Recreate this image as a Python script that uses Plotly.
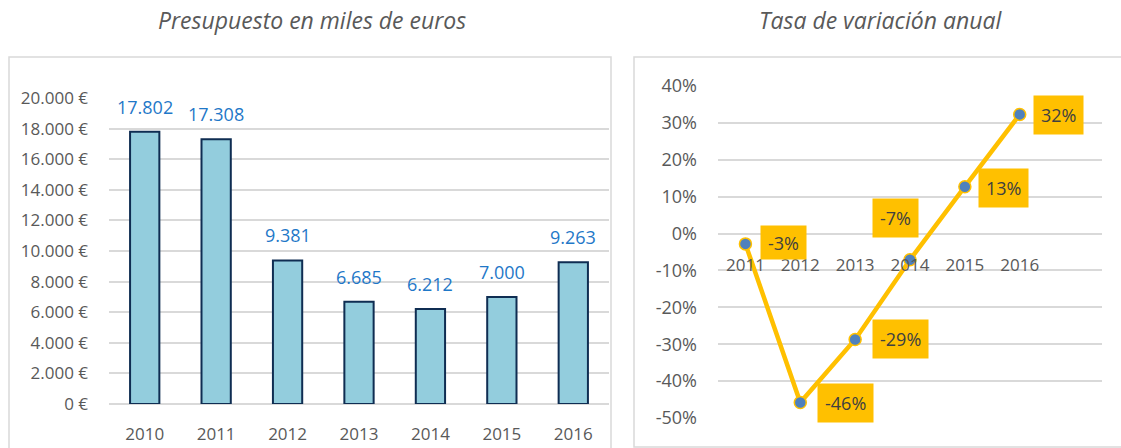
import plotly.graph_objects as go

# ---- data ----
years_budget = ["2010", "2011", "2012", "2013", "2014", "2015", "2016"]
budget = [17802, 17308, 9381, 6685, 6212, 7000, 9263]
budget_labels = ["17.802", "17.308", "9.381", "6.685", "6.212", "7.000", "9.263"]
budget_ticks = [0, 2000, 4000, 6000, 8000, 10000, 12000, 14000, 16000, 18000, 20000]
budget_ticktext = ["0 €", "2.000 €", "4.000 €", "6.000 €", "8.000 €", "10.000 €",
                   "12.000 €", "14.000 €", "16.000 €", "18.000 €", "20.000 €"]

years_rate = ["2011", "2012", "2013", "2014", "2015", "2016"]
rate = [-0.028, -0.458, -0.287, -0.071, 0.127, 0.323]
rate_labels = ["-3%", "-46%", "-29%", "-7%", "13%", "32%"]
rate_ticks = [-0.5, -0.4, -0.3, -0.2, -0.1, 0, 0.1, 0.2, 0.3, 0.4]
rate_ticktext = ["-50%", "-40%", "-30%", "-20%", "-10%", "0%", "10%", "20%", "30%", "40%"]

W, H = 1121, 448
def px(x): return x / W
def py(y): return 1 - y / H

FONT = "Open Sans"
GREY = "#595959"
GRID = "#D9D9D9"

fig = go.Figure()

fig.add_trace(go.Bar(
    x=years_budget, y=budget, xaxis="x", yaxis="y",
    marker=dict(color="#93CDDD", line=dict(color="#0F2D52", width=2)),
    width=0.41, showlegend=False, hoverinfo="skip",
))

fig.add_trace(go.Scatter(
    x=years_rate, y=rate, xaxis="x2", yaxis="y2", mode="lines+markers",
    line=dict(color="#FFC000", width=4.5),
    marker=dict(color="#4F81BD", size=12, line=dict(color="#FFC000", width=1.5)),
    showlegend=False, hoverinfo="skip",
))

annotations = []
for i, (yv, t) in enumerate(zip(budget, budget_labels)):
    annotations.append(dict(
        x=i, y=yv, xref="x", yref="y", text=t, showarrow=False,
        xanchor="center", yanchor="bottom", yshift=11,
        font=dict(family=FONT, size=18, color="#1F78C8"),
    ))

shifts = [(38, 1.5), (45, 0), (45, 0), (-15, 42), (39, -1), (39, -1)]
for i, ((xs, ys), yv, t) in enumerate(zip(shifts, rate, rate_labels)):
    ann = dict(
        x=i, y=yv, xref="x2", yref="y2", text=t, showarrow=False,
        xanchor="center", yanchor="middle",
        xshift=xs, yshift=ys, bgcolor="#FFC000", borderpad=7,
        font=dict(family=FONT, size=18, color="#404040"),
    )
    if i == 0:
        ann["height"] = 19
    annotations.append(ann)

annotations.append(dict(
    x=px(312), y=py(20), xref="paper", yref="paper", showarrow=False,
    xanchor="center", yanchor="middle",
    text="<i>Presupuesto en miles de euros</i>",
    font=dict(family=FONT, size=23, color=GREY),
))
annotations.append(dict(
    x=px(881), y=py(20), xref="paper", yref="paper", showarrow=False,
    xanchor="center", yanchor="middle",
    text="<i>Tasa de variación anual</i>",
    font=dict(family=FONT, size=23, color=GREY),
))

shapes = [
    dict(type="rect", xref="paper", yref="paper", x0=px(9), x1=px(611),
         y0=-0.05, y1=py(57), line=dict(color=GRID, width=1.5), layer="below"),
    dict(type="rect", xref="paper", yref="paper", x0=px(634), x1=1.05,
         y0=py(447), y1=py(57), line=dict(color=GRID, width=1.5), layer="below"),
]

y0_frac = py(418)
y1_frac = py(86)
zero_pos = y0_frac + (0 - (-0.5)) / 0.9 * (y1_frac - y0_frac)

fig.update_layout(
    width=W, height=H, margin=dict(l=0, r=0, t=0, b=0, autoexpand=False),
    paper_bgcolor="white", plot_bgcolor="white",
    font=dict(family=FONT, color=GREY),
    annotations=annotations, shapes=shapes,
    xaxis=dict(domain=[px(109), px(609)], anchor="y", type="category",
               range=[-0.5, 6.5], automargin=False,
               showgrid=False, showline=False, ticks="",
               tickfont=dict(size=17, color=GREY), ticklabelstandoff=18),
    yaxis=dict(domain=[py(404), py(98)], anchor="x", range=[0, 20000],
               automargin=False,
               tickvals=budget_ticks, ticktext=budget_ticktext,
               showgrid=True, gridcolor=GRID, gridwidth=1.5,
               zeroline=True, zerolinecolor=GRID, zerolinewidth=1.5,
               showline=False, ticks="", tickfont=dict(size=17, color=GREY),
               ticklabelstandoff=20),
    xaxis2=dict(domain=[px(718), px(1102)], anchor="free", position=zero_pos,
                type="category", range=[-0.5, 6.5], automargin=False,
                showgrid=False, showline=False, ticks="",
                tickfont=dict(size=17, color=GREY), ticklabelstandoff=19),
    yaxis2=dict(domain=[y0_frac, y1_frac], anchor="x2", range=[-0.5, 0.4],
                automargin=False,
                tickvals=rate_ticks, ticktext=rate_ticktext,
                showgrid=True, gridcolor=GRID, gridwidth=1.5,
                zeroline=True, zerolinecolor=GRID, zerolinewidth=1.5,
                showline=False, ticks="", tickfont=dict(size=18, color=GREY),
                ticklabelstandoff=20),
)

fig.write_html("out.html", config={"displayModeBar": False},
               post_script="document.body.style.margin='0';")
